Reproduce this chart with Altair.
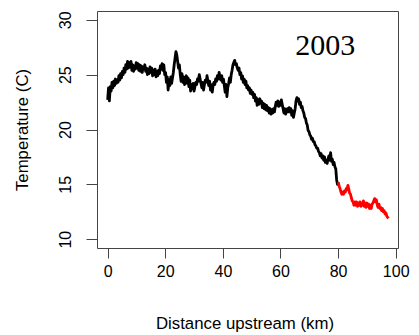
import altair as alt
import pandas as pd

# Black section (0 - 80 km)
km_black = [0.0, 0.3, 0.6, 0.9, 1.2, 1.5, 1.8, 2.1, 2.4, 2.7, 3.0, 3.3, 3.6, 3.9, 4.2, 4.5, 4.8, 5.1, 5.4, 5.7,
            6.0, 6.3, 6.6, 6.9, 7.2, 7.5, 7.8, 8.1, 8.4, 8.7, 9.0, 9.3, 9.6, 9.9, 10.2, 10.5, 10.8, 11.1, 11.4, 11.7,
            12.0, 12.3, 12.6, 12.9, 13.2, 13.5, 13.8, 14.1, 14.4, 14.7, 15.0, 15.3, 15.6, 15.9, 16.2, 16.5, 16.8, 17.1, 17.4, 17.7,
            18.0, 18.3, 18.6, 18.9, 19.2, 19.5, 19.8, 20.1, 20.4, 20.7, 21.0, 21.3, 21.6, 21.9, 22.2, 22.5, 22.8, 23.1, 23.4, 23.7,
            24.0, 24.3, 24.6, 24.9, 25.2, 25.5, 25.8, 26.1, 26.4, 26.7, 27.0, 27.3, 27.6, 27.9, 28.2, 28.5, 28.8, 29.1, 29.4, 29.7,
            30.0, 30.3, 30.6, 30.9, 31.2, 31.5, 31.8, 32.1, 32.4, 32.7, 33.0, 33.3, 33.6, 33.9, 34.2, 34.5, 34.8, 35.1, 35.4, 35.7,
            36.0, 36.3, 36.6, 36.9, 37.2, 37.5, 37.8, 38.1, 38.4, 38.7, 39.0, 39.3, 39.6, 39.9, 40.2, 40.5, 40.8, 41.1, 41.4, 41.7,
            42.0, 42.3, 42.6, 42.9, 43.2, 43.5, 43.8, 44.1, 44.4, 44.7, 45.0, 45.3, 45.6, 45.9, 46.2, 46.5, 46.8, 47.1, 47.4, 47.7,
            48.0, 48.3, 48.6, 48.9, 49.2, 49.5, 49.8, 50.1, 50.4, 50.7, 51.0, 51.3, 51.6, 51.9, 52.2, 52.5, 52.8, 53.1, 53.4, 53.7,
            54.0, 54.3, 54.6, 54.9, 55.2, 55.5, 55.8, 56.1, 56.4, 56.7, 57.0, 57.3, 57.6, 57.9, 58.2, 58.5, 58.8, 59.1, 59.4, 59.7,
            60.0, 60.3, 60.6, 60.9, 61.2, 61.5, 61.8, 62.1, 62.4, 62.7, 63.0, 63.3, 63.6, 63.9, 64.2, 64.5, 64.8, 65.1, 65.4, 65.7,
            66.0, 66.3, 66.6, 66.9, 67.2, 67.5, 67.8, 68.1, 68.4, 68.7, 69.0, 69.3, 69.6, 69.9, 70.2, 70.5, 70.8, 71.1, 71.4, 71.7,
            72.0, 72.3, 72.6, 72.9, 73.2, 73.5, 73.8, 74.1, 74.4, 74.7, 75.0, 75.3, 75.6, 75.9, 76.2, 76.5, 76.8, 77.1, 77.4, 77.7,
            78.0, 78.3, 78.6, 78.9, 79.2, 79.5, 79.8, 80.1]
temp_black = [22.7, 23.8, 22.6, 23.9, 23.5, 24.3, 23.8, 24.4, 24.0, 24.6, 24.2, 24.5, 24.3, 24.9, 24.5, 25.1, 24.7, 25.3, 25.0, 25.6,
              25.2, 25.9, 25.5, 26.2, 25.6, 26.1, 25.7, 26.2, 25.4, 25.9, 25.3, 25.8, 25.5, 26.1, 25.6, 26.0, 25.4, 25.9, 25.3, 25.8,
              25.2, 25.7, 25.5, 25.9, 25.3, 25.6, 25.0, 25.5, 25.1, 25.7, 25.2, 25.6, 24.9, 25.4, 25.0, 25.5, 24.8, 25.3, 24.9, 25.4,
              25.1, 25.8, 25.5, 26.0, 25.4, 25.9, 25.0, 25.2, 24.3, 24.8, 23.6, 24.5, 24.0, 24.8, 24.2, 24.7, 25.2, 25.9, 26.5, 27.1,
              26.8, 26.2, 25.6, 25.9, 25.0, 24.4, 25.1, 24.3, 24.8, 24.1, 24.6, 24.9, 24.2, 24.7, 23.9, 24.5, 23.5, 24.1, 23.7, 24.2,
              23.5, 23.9, 24.3, 24.1, 24.6, 24.4, 25.0, 24.6, 24.2, 23.8, 24.3, 23.6, 24.1, 24.5, 24.3, 24.9, 24.4, 24.0, 24.4, 23.6,
              24.1, 23.4, 24.0, 24.3, 24.1, 24.6, 24.4, 24.9, 24.6, 25.2, 24.8, 24.5, 24.9, 24.3, 24.6, 24.0, 23.4, 24.1, 23.0, 23.8,
              24.2, 24.7, 24.3, 25.0, 25.4, 25.9, 26.1, 26.3, 25.9, 26.0, 25.6, 25.4, 25.6, 25.0, 25.2, 24.6, 24.9, 24.3, 24.6, 24.1,
              24.4, 23.8, 24.0, 23.6, 23.8, 23.3, 23.6, 23.2, 23.4, 22.9, 23.2, 22.6, 22.9, 22.2, 22.7, 22.3, 22.8, 22.4, 22.6, 22.0,
              22.4, 21.9, 22.3, 21.8, 22.2, 21.7, 22.0, 21.5, 21.9, 21.4, 21.8, 21.5, 21.9, 21.6, 22.1, 22.5, 22.2, 22.6, 22.1, 22.5,
              22.2, 22.7, 22.3, 21.9, 21.5, 21.9, 21.4, 21.7, 21.9, 21.6, 22.0, 21.6, 21.9, 21.3, 21.7, 21.1, 21.5, 21.9, 22.6, 22.9,
              22.6, 22.8, 22.3, 22.5, 22.0, 22.1, 21.7, 21.5, 21.1, 21.0, 20.6, 20.4, 19.9, 19.8, 19.5, 19.4, 19.1, 19.2, 18.9, 18.9,
              18.6, 18.5, 18.3, 18.3, 18.0, 17.9, 17.6, 17.8, 17.4, 17.6, 17.2, 17.5, 17.0, 17.2, 16.9, 17.3, 17.6, 17.2, 17.9, 17.1,
              17.3, 16.8, 17.0, 16.6, 16.4, 15.4, 15.0, 15.2]

# Red section (80 - 97.5 km)
km_red = [80.1, 80.4, 80.7, 81.0, 81.3, 81.6, 81.9, 82.2, 82.5, 82.8, 83.1, 83.4, 83.7, 84.0, 84.3, 84.6, 84.9, 85.2, 85.5, 85.8,
          86.1, 86.4, 86.7, 87.0, 87.3, 87.6, 87.9, 88.2, 88.5, 88.8, 89.1, 89.4, 89.7, 90.0, 90.3, 90.6, 90.9, 91.2, 91.5, 91.8,
          92.1, 92.4, 92.7, 93.0, 93.3, 93.6, 93.9, 94.2, 94.5, 94.8, 95.1, 95.4, 95.7, 96.0, 96.3, 96.6, 96.9, 97.2, 97.5]
temp_red = [15.2, 14.8, 14.6, 14.3, 14.1, 14.3, 14.1, 14.4, 14.3, 14.6, 14.5, 14.9, 14.6, 14.2, 14.1, 13.8, 13.5, 13.4, 13.1, 13.4,
            13.1, 13.4, 13.0, 13.3, 13.1, 13.4, 13.0, 13.3, 13.1, 13.5, 13.0, 13.3, 12.9, 13.3, 13.0, 13.2, 12.8, 13.1, 12.8, 13.2,
            13.3, 13.5, 13.7, 13.4, 13.6, 13.1, 12.9, 13.2, 12.8, 12.9, 12.6, 12.8, 12.5, 12.6, 12.3, 12.4, 12.1, 12.0, 11.9]

x_ticks = [0, 20, 40, 60, 80, 100]
y_ticks = [10, 15, 20, 25, 30]
label_text = ["2003"]
label_x = [75.5]
label_y = [27.6]

df = pd.concat([
    pd.DataFrame({"km": km_black, "temp": temp_black, "seg": "upper"}),
    pd.DataFrame({"km": km_red, "temp": temp_red, "seg": "lower"}),
], ignore_index=True)
df["order"] = range(len(df))

xscale = alt.Scale(domain=[-3.7, 100.8], nice=False, zero=False)
yscale = alt.Scale(domain=[9.2, 30.8], nice=False, zero=False)

line = alt.Chart(df).mark_line(strokeWidth=2.8, strokeJoin="round").encode(
    x=alt.X("km:Q", scale=xscale,
            axis=alt.Axis(values=x_ticks, title="Distance upstream (km)", tickSize=10,
                          labelPadding=13, labelBaseline="middle",
                          titleX=147.5, titleY=80, titleBaseline="alphabetic")),
    y=alt.Y("temp:Q", scale=yscale,
            axis=alt.Axis(values=y_ticks, title="Temperature (C)", tickSize=11,
                          labelAngle=270, labelAlign="center", labelBaseline="middle",
                          labelPadding=21, titleX=-70, titleBaseline="alphabetic")),
    color=alt.Color("seg:N", scale=alt.Scale(domain=["upper", "lower"], range=["#000000", "#ff0000"]), legend=None),
    order="order:Q",
)

ann = alt.Chart(pd.DataFrame({"t": label_text, "x": label_x, "y": label_y})).mark_text(
    font="Liberation Serif", fontSize=30, color="black", align="center", baseline="middle"
).encode(x=alt.X("x:Q", scale=xscale), y=alt.Y("y:Q", scale=yscale), text="t:N")

chart = alt.layer(line, ann).properties(
    width=301, height=237,
    autosize=alt.AutoSizeParams(type="none"),
    padding={"left": 97, "top": 11, "right": 21, "bottom": 87},
).configure_view(stroke="#444444", strokeWidth=1).configure_axis(
    grid=False, domain=False, tickColor="#444444", tickWidth=1,
    labelFont="Liberation Sans", labelFontSize=16, labelColor="black",
    titleFont="Liberation Sans", titleFontSize=16.8, titleColor="black", titleFontWeight="normal",
)

chart.save("out.html", embed_options={"renderer": "svg", "actions": False})
